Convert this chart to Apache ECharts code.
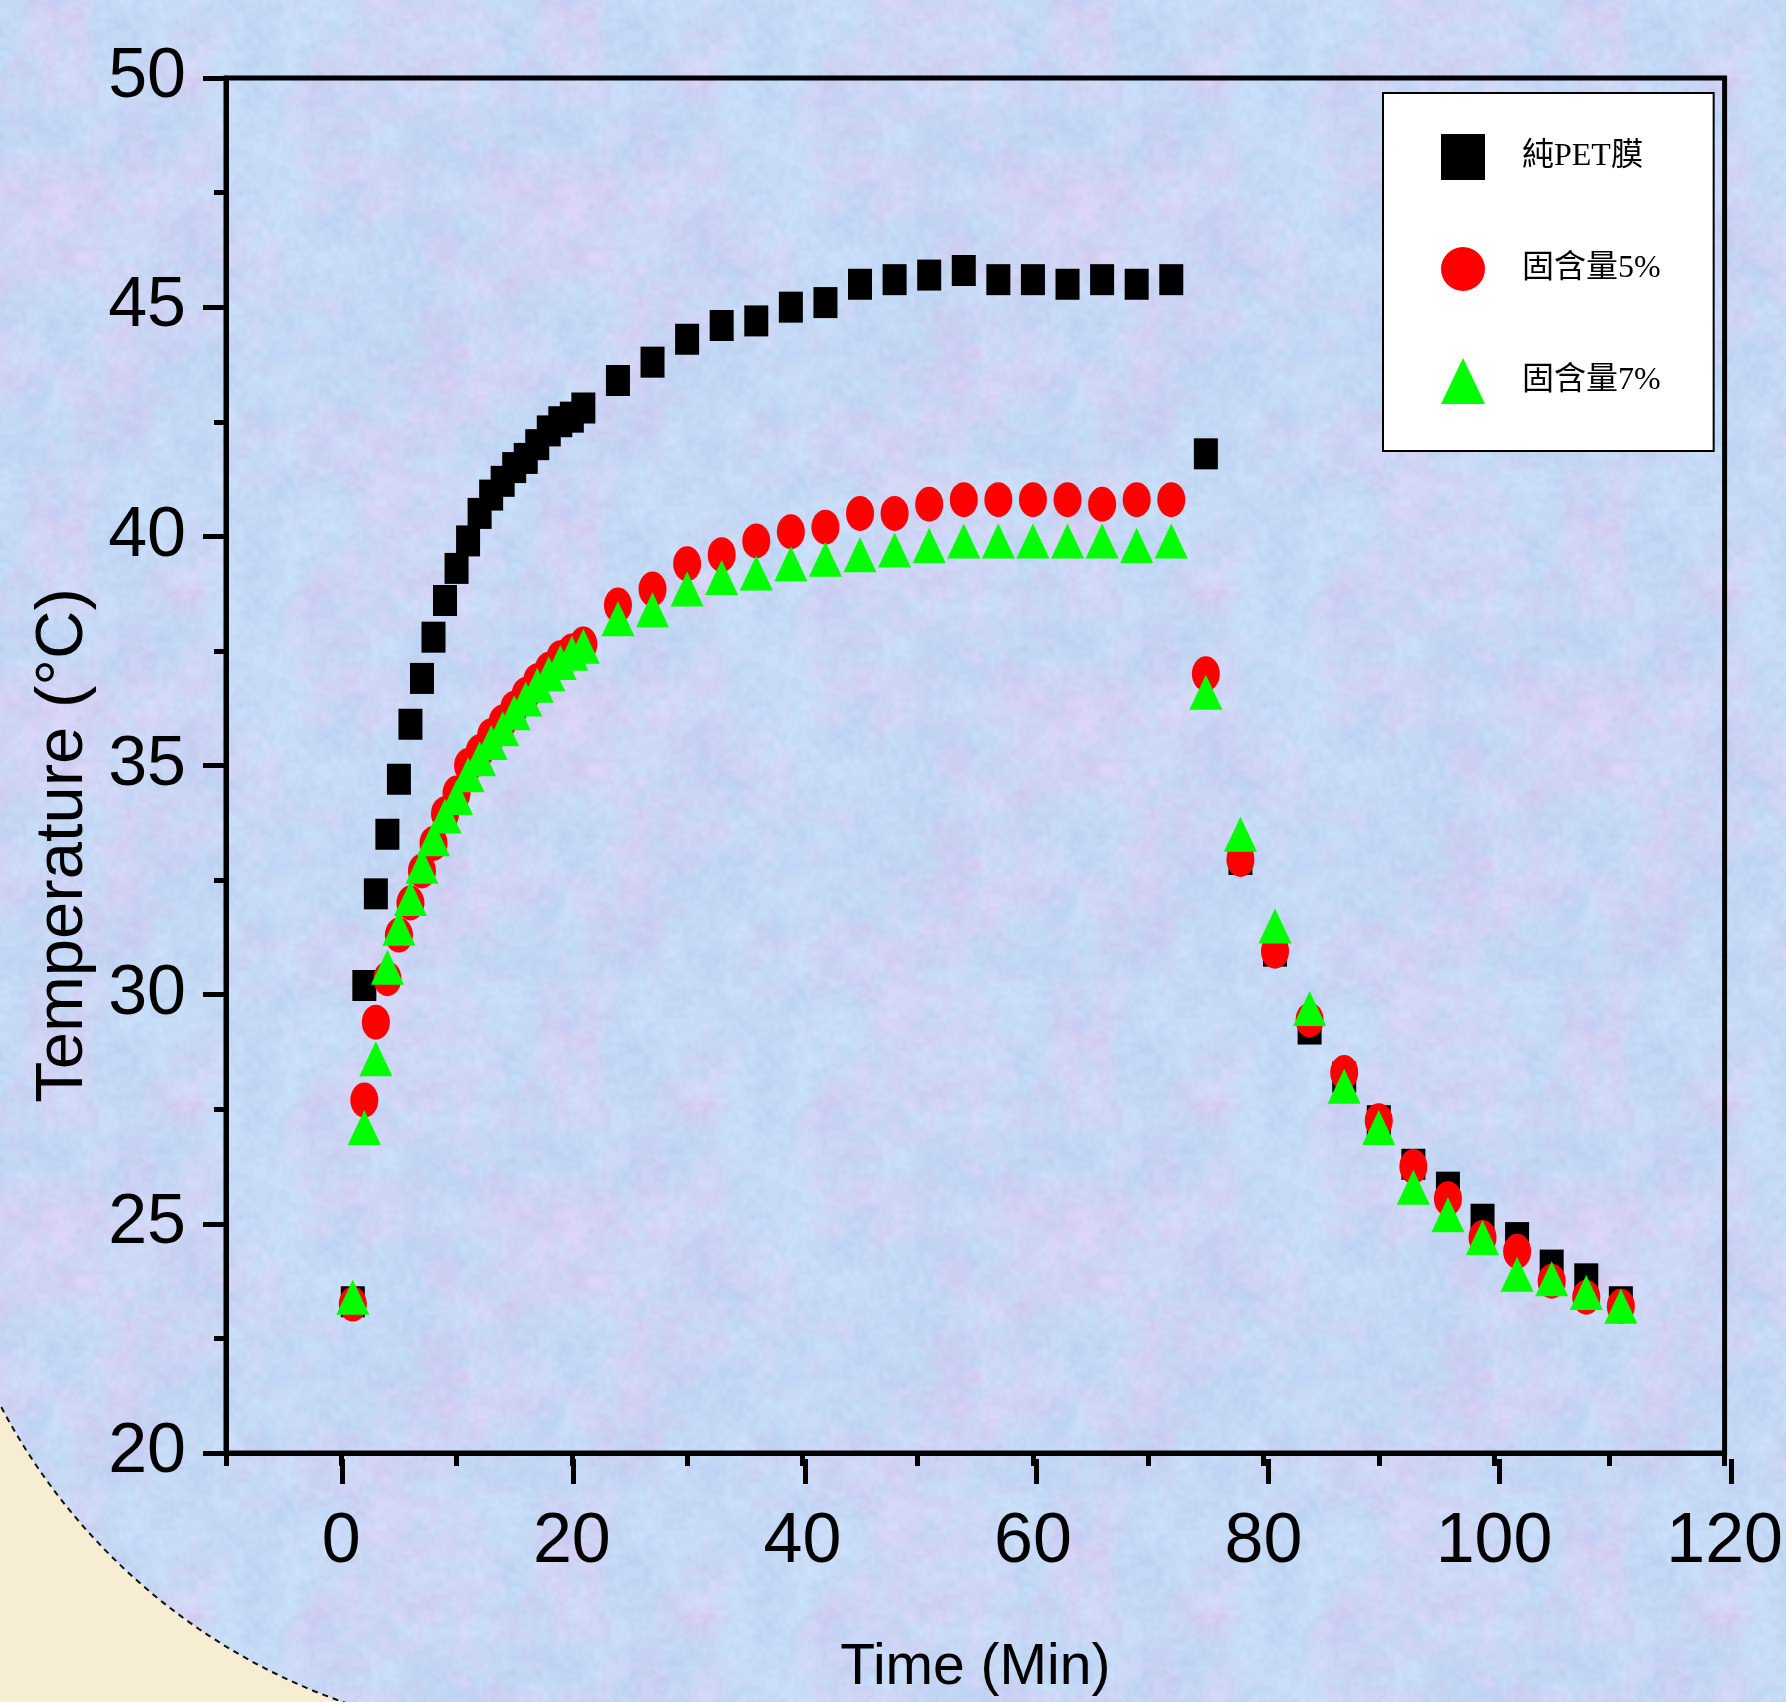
<!DOCTYPE html>
<html>
<head>
<meta charset="utf-8">
<script src="https://cdn.jsdelivr.net/npm/echarts@6/dist/echarts.min.js"></script>
<style>
html,body{margin:0;padding:0;background:#F7EDD2;}
#chart{width:1786px;height:1702px;}
</style>
</head>
<body>
<div id="chart"></div>
<script>
// ---- data ----
const time = [1,2,3,4,5,6,7,8,9,10,11,12,13,14,15,16,17,18,19,20,21,
  24,27,30,33,36,39,42,45,48,51,54,57,60,63,66,69,72,
  75,78,81,84,87,90,93,96,99,102,105,108,111];
const petFilm = [23.3,30.2,32.2,33.5,34.7,35.9,36.9,37.8,38.6,39.3,39.9,40.5,40.9,41.2,41.5,41.7,42.0,42.3,42.5,42.6,42.8,
  43.4,43.8,44.3,44.6,44.7,45.0,45.1,45.5,45.6,45.7,45.8,45.6,45.6,45.5,45.6,45.5,45.6,
  41.8,32.95,30.95,29.25,28.2,27.25,26.3,25.8,25.1,24.7,24.1,23.8,23.3];
const solid5 = [23.25,27.7,29.4,30.35,31.3,32.0,32.7,33.3,33.95,34.4,35.0,35.3,35.65,35.95,36.25,36.55,36.85,37.1,37.35,37.5,37.65,
  38.5,38.85,39.4,39.6,39.9,40.1,40.2,40.5,40.5,40.7,40.8,40.8,40.8,40.8,40.7,40.8,40.8,
  37.0,32.95,30.95,29.45,28.3,27.25,26.25,25.55,24.7,24.4,23.75,23.4,23.2];
const solid7 = [23.4,27.1,28.6,30.6,31.45,32.1,32.8,33.4,33.9,34.3,34.8,35.15,35.5,35.8,36.15,36.45,36.75,37.0,37.25,37.45,37.6,
  38.2,38.4,38.85,39.1,39.2,39.4,39.5,39.6,39.7,39.8,39.9,39.9,39.9,39.9,39.9,39.8,39.9,
  36.6,33.5,31.5,29.7,28.0,27.1,25.8,25.2,24.7,23.9,23.8,23.5,23.2];
const seriesNames = ['純PET膜','固含量5%','固含量7%'];
const xMajorTicks = [0,20,40,60,80,100,120];
const xTitle = 'Time (Min)';
const yTitle = 'Temperature (°C)';

const pair = (ys) => time.map((t,i)=>[t, ys[i]]);
const ellipse = 'path://M0,1 A1,1 0 1,1 2,1 A1,1 0 1,1 0,1 Z';
const sans = '"Liberation Sans",Arial,sans-serif';

// decorative paper texture for the slide background (deterministic hash noise)
function makeTexture(){
  const S = 512, c = document.createElement('canvas');
  c.width = S; c.height = S;
  const ctx = c.getContext('2d'), img = ctx.createImageData(S, S);
  function h(ix, iy, seed){
    let v = Math.imul(ix, 374761393) ^ Math.imul(iy, 668265263) ^ Math.imul(seed, 2246822519);
    v = Math.imul(v ^ (v >>> 13), 1274126177);
    return ((v ^ (v >>> 16)) >>> 0) / 4294967295;
  }
  function noise(x, y, cell, seed){
    const p = S / cell, gx = x / cell, gy = y / cell;
    const x0 = Math.floor(gx), y0 = Math.floor(gy), fx = gx - x0, fy = gy - y0;
    const sx = fx*fx*(3-2*fx), sy = fy*fy*(3-2*fy);
    const a = h(x0 % p, y0 % p, seed), b = h((x0+1) % p, y0 % p, seed);
    const cc = h(x0 % p, (y0+1) % p, seed), d = h((x0+1) % p, (y0+1) % p, seed);
    return (a + (b-a)*sx) + ((cc + (d-cc)*sx) - (a + (b-a)*sx))*sy;
  }
  for (let y = 0; y < S; y++) for (let x = 0; x < S; x++){
    const pink = 0.6*noise(x,y,64,1) + 0.4*noise(x,y,16,2);
    const lum = 0.4*noise(x,y,32,3) + 0.3*noise(x,y,8,4) + 0.3*noise(x,y,4,5);
    const t = Math.max(0, Math.min(1, (pink - 0.42) * 1.8));
    const l = (lum - 0.5) * 24;
    const i = (y*S + x)*4;
    img.data[i]   = 196 + t*18 + l;
    img.data[i+1] = 217 - t*10 + l;
    img.data[i+2] = 245 - t*2 + l*0.5;
    img.data[i+3] = 255;
  }
  ctx.putImageData(img, 0, 0);
  return c;
}

// layout
const W = 1786, gridL = 226, gridR = 55, gridT = 78, gridB = 243;
const xMin = -10, xMax = 120;
const grid2L = gridL + (0 - xMin) / (xMax - xMin) * (W - gridL - gridR);

const chart = echarts.init(document.getElementById('chart'), null, {renderer:'canvas'});
chart.setOption({
  animation:false,
  backgroundColor:'transparent',
  graphic:[
    {type:'rect', silent:true, z:-100, shape:{x:0,y:0,width:1786,height:1702}, style:{fill:'#F7EDD2'}},
    {type:'rect', silent:true, z:-99, shape:{x:-70,y:-60,width:1960,height:1797,r:[0,0,0,618]},
     style:{fill:{image:makeTexture(), repeat:'repeat'}, stroke:'#111', lineWidth:2, lineDash:[6,5]}}
  ],
  grid:[
    {left:gridL, right:gridR, top:gridT, bottom:gridB, show:true, borderColor:'#000', borderWidth:5, backgroundColor:'transparent'},
    {left:grid2L, right:gridR, top:gridT, bottom:gridB, show:false}
  ],
  legend:{
    left:1383, top:93, orient:'vertical',
    backgroundColor:'#fff', borderColor:'#000', borderWidth:2,
    padding:[41,53,47,58], itemGap:67, itemWidth:44, itemHeight:46,
    textStyle:{fontSize:32, color:'#000', fontFamily:'"Liberation Serif","Noto Sans CJK TC",serif', padding:[0,0,0,32]},
    data:[
      {name:seriesNames[0], icon:'rect'},
      {name:seriesNames[1], icon:ellipse},
      {name:seriesNames[2], icon:'triangle'}
    ]
  },
  xAxis:[{
    type:'value', gridIndex:0, min:xMin, max:xMax, interval:10,
    name:xTitle, nameLocation:'middle', nameGap:187,
    nameTextStyle:{fontSize:57, color:'#000', fontFamily:sans},
    axisLine:{show:true, onZero:false, lineStyle:{color:'#000', width:5}},
    axisTick:{show:true, length:13, lineStyle:{color:'#000', width:5}},
    axisLabel:{customValues:xMajorTicks, fontSize:70, color:'#000', fontFamily:sans, margin:55},
    splitLine:{show:false}
  },{
    type:'value', gridIndex:1, min:0, max:xMax, interval:20, position:'bottom',
    axisLine:{show:false, onZero:false},
    axisTick:{show:true, length:25, lineStyle:{color:'#000', width:5}},
    axisLabel:{show:false},
    splitLine:{show:false}
  }],
  yAxis:[{
    type:'value', gridIndex:0, min:20, max:50, interval:5,
    name:yTitle, nameLocation:'middle', nameGap:112, nameRotate:90,
    nameTextStyle:{fontSize:67, color:'#000', fontFamily:sans, padding:[0,160,0,0]},
    axisLine:{show:true, onZero:false, lineStyle:{color:'#000', width:5}},
    axisTick:{show:true, length:23, lineStyle:{color:'#000', width:5}},
    minorTick:{show:true, splitNumber:2, length:12, lineStyle:{color:'#000', width:5}},
    axisLabel:{fontSize:70, color:'#000', fontFamily:sans, margin:40},
    splitLine:{show:false}
  },{
    type:'value', gridIndex:1, min:20, max:50, show:false
  }],
  series:[
    {name:seriesNames[0], type:'scatter', xAxisIndex:0, yAxisIndex:0, data:pair(petFilm), symbol:'rect', symbolSize:[24,31],
     itemStyle:{color:'#000', opacity:1}},
    {name:seriesNames[1], type:'scatter', xAxisIndex:0, yAxisIndex:0, data:pair(solid5), symbol:ellipse, symbolSize:[28,35],
     itemStyle:{color:'#FF0000', opacity:1}},
    {name:seriesNames[2], type:'scatter', xAxisIndex:0, yAxisIndex:0, data:pair(solid7), symbol:'triangle', symbolSize:[33,35],
     itemStyle:{color:'#00FF00', opacity:1}}
  ]
});
</script>
</body>
</html>
